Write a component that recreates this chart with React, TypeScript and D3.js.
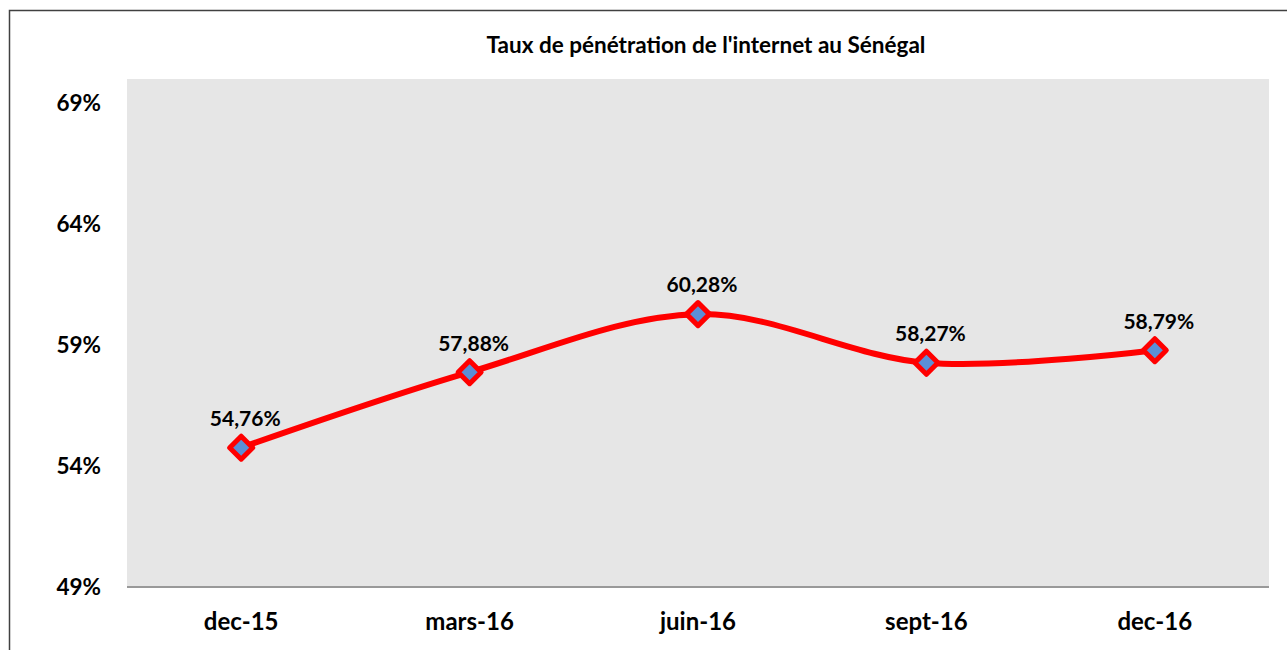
import React from "react";
import * as d3 from "d3";

const categories = ["dec-15", "mars-16", "juin-16", "sept-16", "dec-16"];
const values = [54.76, 57.88, 60.28, 58.27, 58.79];
const yTicks = [49, 54, 59, 64, 69];
const title = "Taux de pénétration de l'internet au Sénégal";

const W = 1287;
const H = 650;
const plot = { left: 127, right: 1269, top: 79, bottom: 587 };
const FONT = "Lato, 'Open Sans', sans-serif";

export default function App() {
  const x = d3
    .scaleBand<string>()
    .domain(categories)
    .range([plot.left, plot.right])
    .padding(0);
  const y = d3.scaleLinear().domain([49, 70]).range([plot.bottom, plot.top]);

  const pts: [number, number][] = values.map((v, i) => [
    (x(categories[i]) as number) + x.bandwidth() / 2,
    y(v),
  ]);
  const line = d3.line().curve(d3.curveCardinal.tension(0))(pts) || "";
  const fmt = (v: number) => v.toFixed(2).replace(".", ",") + "%";
  const r = 11.5;

  return (
    <svg
      width={W}
      height={H}
      style={{ position: "absolute", left: 0, top: 0, background: "#fff" }}
    >
      <rect x={9.5} y={10.5} width={W + 10} height={H + 10} fill="none" stroke="#404040" strokeWidth={1.5} />
      <text x={706} y={45} dy="0.35em" textAnchor="middle" fontFamily={FONT} fontWeight="bold" fontSize={22.5} fill="#000">
        {title}
      </text>
      <rect x={plot.left} y={plot.top} width={plot.right - plot.left} height={plot.bottom - plot.top} fill="#e6e6e6" />
      <line x1={plot.left} x2={plot.right} y1={plot.bottom} y2={plot.bottom} stroke="#999" strokeWidth={2} />
      {yTicks.map((t) => (
        <text key={t} x={101} y={y(t)} dy="0.35em" textAnchor="end" fontFamily={FONT} fontWeight="bold" fontSize={22.5} fill="#000">
          {t}%
        </text>
      ))}
      {categories.map((c) => (
        <text key={c} x={(x(c) as number) + x.bandwidth() / 2} y={622} dy="0.35em" textAnchor="middle" fontFamily={FONT} fontWeight="bold" fontSize={24} fill="#000">
          {c}
        </text>
      ))}
      <path d={line} fill="none" stroke="#ff0000" strokeWidth={6} strokeLinejoin="round" />
      {pts.map(([px, py], i) => (
        <g key={i}>
          <polygon
            points={`${px},${py - r} ${px + r},${py} ${px},${py + r} ${px - r},${py}`}
            fill="#5b8fd6"
            stroke="#ff0000"
            strokeWidth={5}
            strokeLinejoin="round"
          />
          <text x={px + 4} y={py - 29} dy="0.35em" textAnchor="middle" fontFamily={FONT} fontWeight="bold" fontSize={21} fill="#000">
            {fmt(values[i])}
          </text>
        </g>
      ))}
    </svg>
  );
}
